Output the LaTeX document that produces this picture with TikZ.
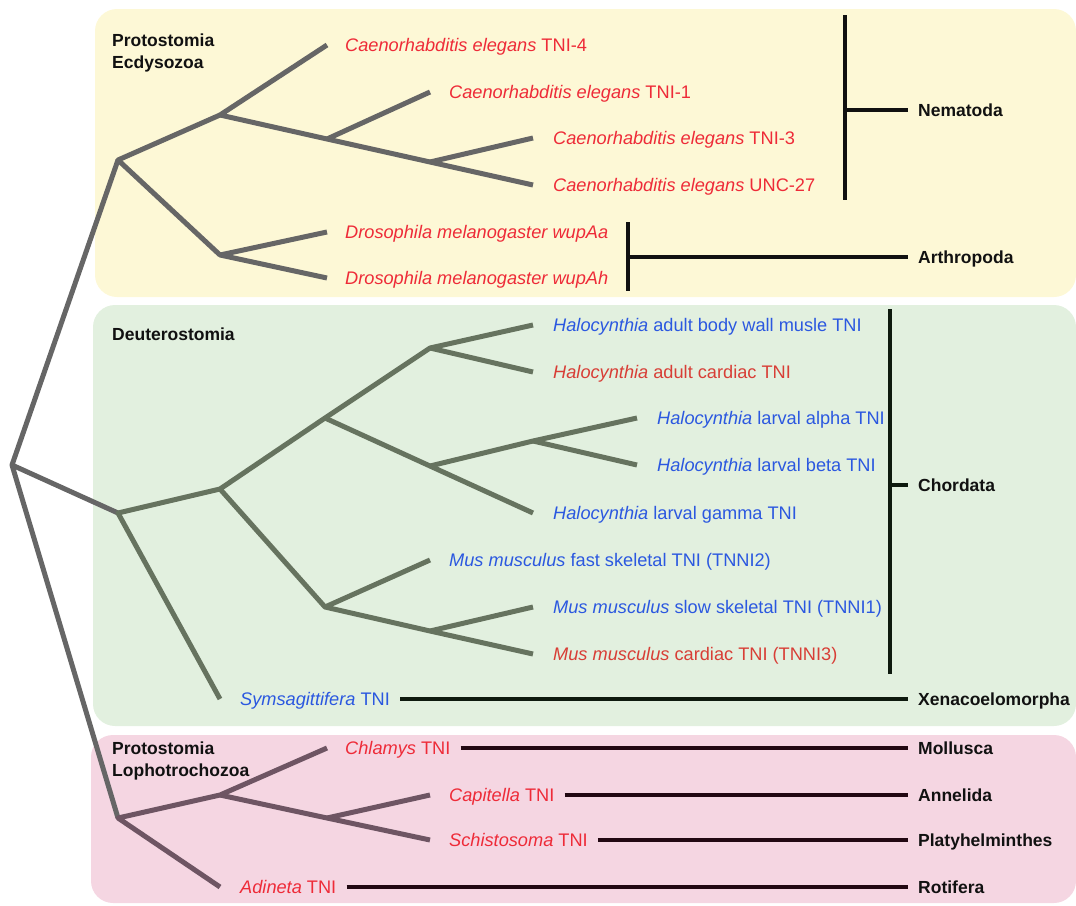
\documentclass[tikz,border=0pt]{standalone}
\usepackage{fontspec}
\setmainfont{Liberation Sans}
\definecolor{yfill}{HTML}{FDF8D6}
\definecolor{gfill}{HTML}{E2F0DF}
\definecolor{pfill}{HTML}{F5D6E2}
\definecolor{ytree}{HTML}{666666}
\definecolor{gtree}{HTML}{66735F}
\definecolor{ptree}{HTML}{6E5563}
\definecolor{cred}{HTML}{EE2B38}
\definecolor{dred}{HTML}{D83E36}
\definecolor{cblue}{HTML}{2B58E0}
\definecolor{labk}{HTML}{111111}
\definecolor{gbar}{HTML}{0E1A0E}
\definecolor{pbar}{HTML}{220812}
\begin{document}
\begin{tikzpicture}[x=1pt,y=-1pt,
  leaf/.style={anchor=west, inner sep=0pt, text height=12.9pt, text depth=0pt, font=\fontsize{18.2}{20}\selectfont},
  grp/.style={anchor=west, inner sep=0pt, text height=12.6pt, text depth=0pt, font=\fontsize{17.5}{20}\selectfont\bfseries, text=labk},
  clade/.style={anchor=base west, inner sep=0pt, align=left, font=\fontsize{17.5}{22}\selectfont\bfseries, text=labk},
  ybr/.style={line width=5pt, draw=ytree, line join=round},
  gbr/.style={line width=5pt, draw=gtree, line join=round},
  pbr/.style={line width=5pt, draw=ptree, line join=round},
  bar/.style={line width=4pt, draw=labk},
  gbarst/.style={line width=4pt, draw=gbar},
  pbarst/.style={line width=4pt, draw=pbar}]
\useasboundingbox (0,0) rectangle (1076,905);
% background panels
\fill[yfill, rounded corners=22pt] (95,9) rectangle (1076,297);
\fill[gfill, rounded corners=22pt] (93,305) rectangle (1076,726);
\fill[pfill, rounded corners=22pt] (91,735) rectangle (1076,903);
% coordinates
\coordinate (R) at (12,465);
\coordinate (P) at (118,160);
\coordinate (D) at (118,513);
\coordinate (L) at (118,818);
\coordinate (A1) at (220,115);
\coordinate (A2) at (220,255);
\coordinate (t1) at (327,45);
\coordinate (B1) at (327,139);
\coordinate (t2) at (430,92);
\coordinate (B2) at (430,162);
\coordinate (t3) at (533,138);
\coordinate (t4) at (533,185);
\coordinate (t5) at (327,232);
\coordinate (t6) at (327,278);
\coordinate (C1) at (220,489);
\coordinate (C2) at (325,418);
\coordinate (C4) at (430,348);
\coordinate (t7) at (533,325);
\coordinate (t8) at (533,372);
\coordinate (C5) at (430,466);
\coordinate (C6) at (533,441);
\coordinate (t9) at (637,418);
\coordinate (t10) at (637,465);
\coordinate (t11) at (533,513);
\coordinate (C3) at (325,607);
\coordinate (t12) at (430,560);
\coordinate (C7) at (430,631);
\coordinate (t13) at (533,607);
\coordinate (t14) at (533,654);
\coordinate (t15) at (220,699);
\coordinate (E1) at (220,795);
\coordinate (t16) at (327,748);
\coordinate (E2) at (327,818);
\coordinate (t17) at (430,795);
\coordinate (t18) at (430,840);
\coordinate (t19) at (220,887);
% root branches
\draw[ybr] (P) -- (R) -- (L);
\draw[ybr] (R) -- (D);
% Ecdysozoa
\draw[ybr] (A1) -- (P) -- (A2);
\draw[ybr] (t1) -- (A1) -- (B1) -- (B2) -- (t4);
\draw[ybr] (B1) -- (t2);
\draw[ybr] (B2) -- (t3);
\draw[ybr] (t5) -- (A2) -- (t6);
% Deuterostomia
\draw[gbr] (t15) -- (D) -- (C1) -- (C2) -- (C4) -- (t7);
\draw[gbr] (C4) -- (t8);
\draw[gbr] (C2) -- (C5) -- (t11);
\draw[gbr] (C5) -- (C6) -- (t9);
\draw[gbr] (C6) -- (t10);
\draw[gbr] (C1) -- (C3) -- (C7) -- (t14);
\draw[gbr] (C3) -- (t12);
\draw[gbr] (C7) -- (t13);
% Lophotrochozoa
\draw[pbr] (t19) -- (L) -- (E1) -- (t16);
\draw[pbr] (E1) -- (E2) -- (t18);
\draw[pbr] (E2) -- (t17);
% clade labels
\node[clade] (ecd) at (112,68) {Protostomia\\Ecdysozoa};
\node[clade] (deu) at (112,340) {Deuterostomia};
\node[clade] (lop) at (112,776) {Protostomia\\Lophotrochozoa};
% leaves
\node[leaf, text=cred] (l1) at (345,45) {\textit{Caenorhabditis elegans} TNI-4};
\node[leaf, text=cred] (l2) at (449,92) {\textit{Caenorhabditis elegans} TNI-1};
\node[leaf, text=cred] (l3) at (553,138) {\textit{Caenorhabditis elegans} TNI-3};
\node[leaf, text=cred] (l4) at (553,185) {\textit{Caenorhabditis elegans} UNC-27};
\node[leaf, text=cred] (l5) at (345,232) {\textit{Drosophila melanogaster wupAa}};
\node[leaf, text=cred] (l6) at (345,278) {\textit{Drosophila melanogaster wupAh}};
\node[leaf, text=cblue] (l7) at (553,325) {\textit{Halocynthia} adult body wall musle TNI};
\node[leaf, text=dred] (l8) at (553,372) {\textit{Halocynthia} adult cardiac TNI};
\node[leaf, text=cblue] (l9) at (657,418) {\textit{Halocynthia} larval alpha TNI};
\node[leaf, text=cblue] (l10) at (657,465) {\textit{Halocynthia} larval beta TNI};
\node[leaf, text=cblue] (l11) at (553,513) {\textit{Halocynthia} larval gamma TNI};
\node[leaf, text=cblue] (l12) at (449,560) {\textit{Mus musculus} fast skeletal TNI (TNNI2)};
\node[leaf, text=cblue] (l13) at (553,607) {\textit{Mus musculus} slow skeletal TNI (TNNI1)};
\node[leaf, text=dred] (l14) at (553,654) {\textit{Mus musculus} cardiac TNI (TNNI3)};
\node[leaf, text=cblue] (l15) at (240,699) {\textit{Symsagittifera} TNI};
\node[leaf, text=cred] (l16) at (345,748) {\textit{Chlamys} TNI};
\node[leaf, text=cred] (l17) at (449,795) {\textit{Capitella} TNI};
\node[leaf, text=cred] (l18) at (449,840) {\textit{Schistosoma} TNI};
\node[leaf, text=cred] (l19) at (240,887) {\textit{Adineta} TNI};
% phylum labels
\node[grp] (nem) at (918,110) {Nematoda};
\node[grp] (art) at (918,257) {Arthropoda};
\node[grp] (cho) at (918,485) {Chordata};
\node[grp] (xen) at (918,699) {Xenacoelomorpha};
\node[grp] (mol) at (918,748) {Mollusca};
\node[grp] (ann) at (918,795) {Annelida};
\node[grp] (pla) at (918,840) {Platyhelminthes};
\node[grp] (rot) at (918,887) {Rotifera};
% brackets
\coordinate (nemTop) at (845,15);
\coordinate (nemBot) at (845,200);
\coordinate (nemMid) at (845,110);
\draw[bar] (nemTop) -- (nemBot);
\draw[bar] (nemMid) -- ([xshift=-10pt]nem.west);
\coordinate (artTop) at (628,222);
\coordinate (artBot) at (628,291);
\coordinate (artMid) at (628,257);
\draw[bar] (artTop) -- (artBot);
\draw[bar] (artMid) -- ([xshift=-10pt]art.west);
\coordinate (choTop) at (890,309);
\coordinate (choBot) at (890,674);
\coordinate (choMid) at (890,485);
\draw[gbarst] (choTop) -- (choBot);
\draw[gbarst] (choMid) -- ([xshift=-10pt]cho.west);
\draw[gbarst] ([xshift=10pt]l15.east) -- ([xshift=-10pt]xen.west);
\draw[pbarst] ([xshift=10pt]l16.east) -- ([xshift=-10pt]mol.west);
\draw[pbarst] ([xshift=10pt]l17.east) -- ([xshift=-10pt]ann.west);
\draw[pbarst] ([xshift=10pt]l18.east) -- ([xshift=-10pt]pla.west);
\draw[pbarst] ([xshift=10pt]l19.east) -- ([xshift=-10pt]rot.west);
\end{tikzpicture}
\end{document}
